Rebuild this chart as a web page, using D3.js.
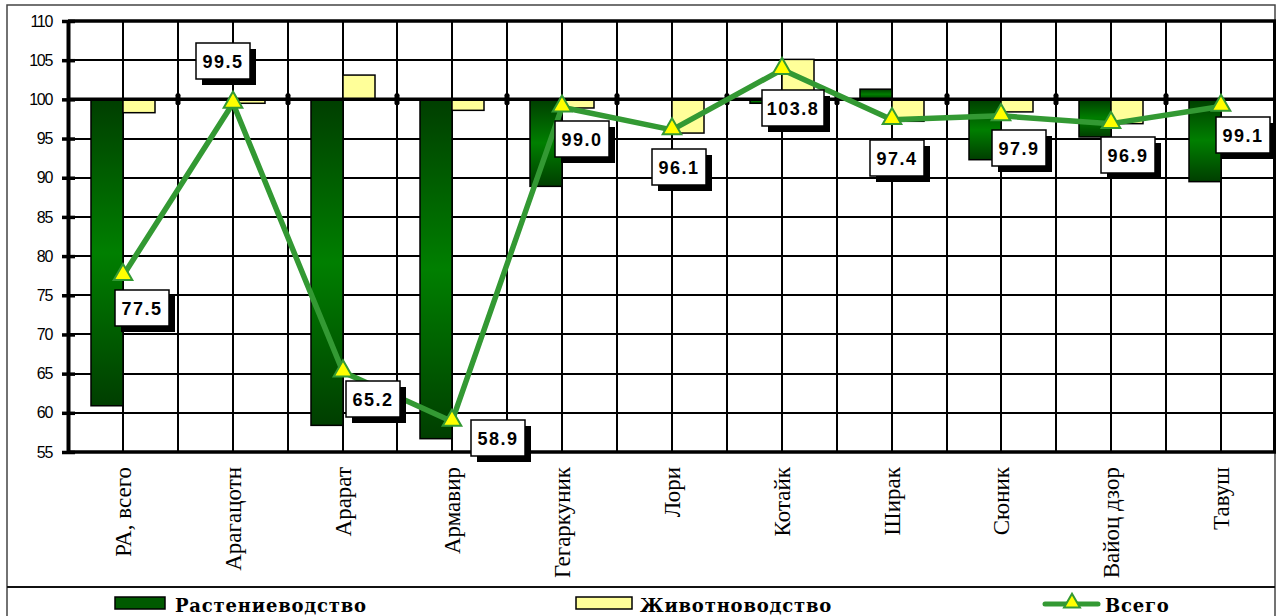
<!DOCTYPE html>
<html><head><meta charset="utf-8">
<script src="https://cdn.jsdelivr.net/npm/d3@7/dist/d3.min.js"></script>
<style>
html,body{margin:0;padding:0;background:#fff;}
svg{display:block;}
</style></head>
<body>
<script>
const categories = ["РА, всего","Арагацотн","Арарат","Армавир","Гегаркуник","Лори","Котайк","Ширак","Сюник","Вайоц дзор","Тавуш"];
const cropValues = [60.9, 100.0, 58.4, 56.7, 88.9, 100.0, 99.5, 101.3, 92.3, 95.2, 89.5];
const livestockValues = [98.3, 99.5, 103.1, 98.6, 98.9, 95.7, 105.1, 97.2, 98.4, 96.9, 100.0];
const totalValues = [77.5, 99.5, 65.2, 58.9, 99.0, 96.1, 103.8, 97.4, 97.9, 96.9, 99.1];
const totalLabels = ["77.5","99.5","65.2","58.9","99.0","96.1","103.8","97.4","97.9","96.9","99.1"];
const yTicks = [55,60,65,70,75,80,85,90,95,100,105,110];
const seriesNames = ["Растениеводство","Животноводство","Всего"];
// label box offsets relative to the point (layout only)
const labelOffsets = [[-8,14],[-37,-60],[3,9],[19,-1],[-7,14],[-20,19],[-20,20],[-22,20],[-9,14],[-10,13],[-5,11]];

const W = 1276, H = 616;
const plot = {left: 68, right: 1276, top: 21, bottom: 452};
const svg = d3.select("body").append("svg").attr("width", W).attr("height", H);

const defs = svg.append("defs");
const grad = defs.append("linearGradient").attr("id","gGreen").attr("x1",0).attr("y1",0).attr("x2",0).attr("y2",1);
grad.append("stop").attr("offset","0%").attr("stop-color","#003e00");
grad.append("stop").attr("offset","50%").attr("stop-color","#007f00");
grad.append("stop").attr("offset","100%").attr("stop-color","#003e00");

// outer frame
svg.append("rect").attr("x",7).attr("y",5).attr("width",1268).attr("height",640)
  .attr("fill","none").attr("stroke","#444").attr("stroke-width",1.5);
svg.append("line").attr("x1",7).attr("x2",1275).attr("y1",587).attr("y2",587).attr("stroke","#111").attr("stroke-width",2);

const x = d3.scaleBand().domain(categories).range([plot.left, plot.right]).padding(0);
const y = d3.scaleLinear().domain([55,110]).range([plot.bottom, plot.top]);
const bw = x.bandwidth();
const barW = 32;
const R = v => Math.round(v);

const g = svg.append("g");

// horizontal gridlines
g.selectAll("line.hg").data(yTicks.filter(t => t!==100 && t!==55 && t!==110)).join("line")
  .attr("x1",plot.left).attr("x2",plot.right).attr("y1",d=>R(y(d))).attr("y2",d=>R(y(d)))
  .attr("stroke","#000").attr("stroke-width",2);
// vertical gridlines at centers and boundaries
const vlines = [];
categories.forEach((c,i)=>{ vlines.push(x(c)+bw/2); if(i>0) vlines.push(x(c)); });
g.selectAll("line.vg").data(vlines).join("line")
  .attr("x1",d=>R(d)).attr("x2",d=>R(d)).attr("y1",plot.top).attr("y2",plot.bottom)
  .attr("stroke","#000").attr("stroke-width",2);

// bars
g.selectAll("rect.crop").data(cropValues).join("rect")
  .attr("x",(d,i)=>R(x(categories[i])+bw/2)-barW)
  .attr("y",d=>Math.min(y(d),y(100)))
  .attr("width",barW)
  .attr("height",d=>Math.abs(y(d)-y(100)))
  .attr("fill","url(#gGreen)").attr("stroke","#000").attr("stroke-width",1.5)
  .attr("display",d=>d===100?"none":null);
g.selectAll("rect.live").data(livestockValues).join("rect")
  .attr("x",(d,i)=>R(x(categories[i])+bw/2))
  .attr("y",d=>Math.min(y(d),y(100)))
  .attr("width",barW)
  .attr("height",d=>Math.abs(y(d)-y(100)))
  .attr("fill","#ffff99").attr("stroke","#000").attr("stroke-width",1.5)
  .attr("display",d=>d===100?"none":null);

// category axis at 100
g.append("line").attr("x1",plot.left).attr("x2",plot.right).attr("y1",y(100)).attr("y2",y(100))
  .attr("stroke","#000").attr("stroke-width",3.5);
g.selectAll("rect.bt").data(categories.slice(1)).join("rect")
  .attr("x",d=>R(x(d))-2.5).attr("y",y(100)-6).attr("width",5).attr("height",12).attr("rx",2)
  .attr("fill","#000");

// plot frame
g.append("line").attr("x1",plot.left).attr("x2",plot.right).attr("y1",plot.top).attr("y2",plot.top).attr("stroke","#000").attr("stroke-width",3.5);
g.append("line").attr("x1",plot.left).attr("x2",plot.right).attr("y1",plot.bottom).attr("y2",plot.bottom).attr("stroke","#000").attr("stroke-width",3.5);
g.append("line").attr("x1",plot.right-1.5).attr("x2",plot.right-1.5).attr("y1",plot.top).attr("y2",plot.bottom).attr("stroke","#000").attr("stroke-width",3);

// y axis
const yAxis = d3.axisLeft(y).tickValues(yTicks).tickSize(0).tickPadding(16);
const ya = svg.append("g").attr("transform",`translate(${plot.left},0)`).call(yAxis);
ya.select(".domain").attr("stroke","#000").attr("stroke-width",4);
ya.selectAll("text").attr("font-family","'Liberation Sans', Arial, sans-serif").attr("font-size",16)
  .attr("letter-spacing","-1.3px").attr("fill","#000");
ya.selectAll(".tick").append("line").attr("x1",-6).attr("x2",7).attr("stroke","#000").attr("stroke-width",3.5);

// x labels
const xAxis = d3.axisBottom(x).tickSize(0).tickPadding(0);
const xa = svg.append("g").attr("transform",`translate(0,${plot.bottom})`).call(xAxis);
xa.select(".domain").remove();
xa.selectAll("text")
  .attr("font-family","'Liberation Serif', 'Times New Roman', serif").attr("font-size",23).attr("fill","#000")
  .attr("text-anchor","end").attr("dy",null)
  .attr("transform","translate(0,15) rotate(-90)").attr("y",8).attr("x",0);

// total line
const lineGen = d3.line().x((d,i)=>R(x(categories[i])+bw/2)).y(d=>y(d));
svg.append("path").datum(totalValues).attr("d",lineGen)
  .attr("fill","none").attr("stroke","#339933").attr("stroke-width",5.5).attr("stroke-linejoin","round");
const tri = d3.symbol().type(d3.symbolTriangle).size(150);
svg.selectAll("path.mk").data(totalValues).join("path")
  .attr("d",tri).attr("transform",(d,i)=>`translate(${R(x(categories[i])+bw/2)},${y(d)-1})`)
  .attr("fill","#ffff00").attr("stroke","#339933").attr("stroke-width",2);

// labels
const lab = svg.selectAll("g.lab").data(totalValues).join("g").attr("class","lab");
lab.each(function(d,i){
  const px = R(x(categories[i])+bw/2), py = R(y(d));
  const gg = d3.select(this);
  const txt = totalLabels[i];
  const bwid = txt.length>4 ? 62 : 54, bh = 36;
  const bx = px + labelOffsets[i][0], by = py + labelOffsets[i][1];
  gg.append("rect").attr("x",bx+6).attr("y",by+6).attr("width",bwid).attr("height",bh).attr("fill","#000");
  gg.append("rect").attr("x",bx).attr("y",by).attr("width",bwid).attr("height",bh).attr("fill","#fff").attr("stroke","#000").attr("stroke-width",1.5);
  gg.append("text").attr("x",bx+bwid/2).attr("y",by+bh/2+6.5).attr("text-anchor","middle")
    .attr("font-family","'Liberation Sans', Arial, sans-serif").attr("font-weight","bold").attr("font-size",18)
    .attr("letter-spacing","1.5px").attr("fill","#000").text(txt);
});

// legend
const lg = svg.append("g");
const legFont = "'DejaVu Serif', serif";
lg.append("rect").attr("x",115).attr("y",597).attr("width",50).attr("height",12).attr("fill","#005a00").attr("stroke","#000").attr("stroke-width",1.5);
lg.append("text").attr("x",175).attr("y",612).text(seriesNames[0]);
lg.append("rect").attr("x",576).attr("y",597).attr("width",56).attr("height",12).attr("fill","#ffff99").attr("stroke","#000").attr("stroke-width",1.5);
lg.append("text").attr("x",640).attr("y",612).text(seriesNames[1]);
lg.append("line").attr("x1",1045).attr("x2",1098).attr("y1",604).attr("y2",604).attr("stroke","#339933").attr("stroke-width",5).attr("stroke-linecap","round");
lg.append("path").attr("d",d3.symbol().type(d3.symbolTriangle).size(110)).attr("transform","translate(1072,603)")
  .attr("fill","#ffff00").attr("stroke","#339933").attr("stroke-width",2);
lg.append("text").attr("x",1105).attr("y",612).text(seriesNames[2]);
lg.selectAll("text").attr("font-family",legFont).attr("font-weight","bold").attr("font-size",18).attr("letter-spacing","0.8px").attr("fill","#000");
</script>
</body></html>
